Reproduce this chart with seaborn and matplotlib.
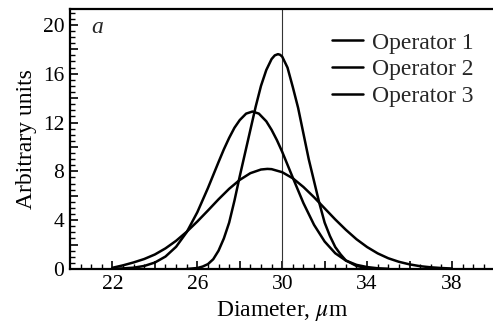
import numpy as np
import pandas as pd
import matplotlib
matplotlib.use("Agg")
import matplotlib.pyplot as plt
from matplotlib.ticker import MultipleLocator, FuncFormatter
import seaborn as sns

# ---- data ----
op1_x = [25.5, 26.0, 26.25, 26.5, 26.75, 27.0, 27.25, 27.5, 27.75, 28.0, 28.25, 28.5, 28.75,
         29.0, 29.25, 29.5, 29.65, 29.8, 29.9, 30.0, 30.25, 30.5, 30.75, 31.0, 31.25, 31.5,
         31.75, 32.0, 32.25, 32.5, 32.75, 33.0, 33.5, 34.0, 34.5]
op1_y = [0.0, 0.08, 0.2, 0.4, 0.8, 1.5, 2.5, 3.8, 5.6, 7.6, 9.5, 11.4, 13.3,
         15.0, 16.3, 17.2, 17.5, 17.6, 17.55, 17.4, 16.5, 14.9, 13.2, 11.1, 9.0, 7.2,
         5.4, 3.8, 2.7, 1.8, 1.2, 0.7, 0.25, 0.08, 0.0]

op2_x = [22.0, 22.5, 23.0, 23.5, 24.0, 24.5, 25.0, 25.5, 26.0, 26.5, 27.0, 27.25, 27.5,
         27.75, 28.0, 28.3, 28.6, 28.9, 29.25, 29.5, 29.75, 30.0, 30.5, 31.0, 31.5, 32.0,
         32.5, 33.0, 33.5, 34.0, 34.5, 35.0]
op2_y = [0.02, 0.05, 0.11, 0.25, 0.53, 1.02, 1.82, 3.02, 4.65, 6.63, 8.76, 9.8, 10.74,
         11.57, 12.2, 12.73, 12.9, 12.73, 12.1, 11.4, 10.56, 9.6, 7.48, 5.4, 3.62, 2.25,
         1.29, 0.69, 0.34, 0.16, 0.06, 0.02]

op3_x = [22.0, 22.5, 23.0, 23.5, 24.0, 24.5, 25.0, 25.5, 26.0, 26.5, 27.0, 27.5, 28.0, 28.5,
         29.0, 29.3, 29.5, 30.0, 30.5, 31.0, 31.5, 32.0, 32.5, 33.0, 33.5, 34.0, 34.5, 35.0,
         35.5, 36.0, 36.5, 37.0, 37.5, 38.0]
op3_y = [0.1, 0.3, 0.54, 0.82, 1.19, 1.69, 2.31, 3.05, 3.89, 4.79, 5.71, 6.57, 7.3, 7.85,
         8.15, 8.2, 8.18, 7.93, 7.43, 6.72, 5.88, 4.97, 4.06, 3.21, 2.44, 1.8, 1.28, 0.88,
         0.59, 0.38, 0.23, 0.14, 0.08, 0.04]

operators = ["Operator 1", "Operator 2", "Operator 3"]
x_ticklabels = [22, 26, 30, 34, 38]
y_ticklabels = [0, 4, 8, 12, 16, 20]
marker_line_x = 30

df = pd.concat([
    pd.DataFrame({"Diameter": op1_x, "Value": op1_y, "Operator": operators[0]}),
    pd.DataFrame({"Diameter": op2_x, "Value": op2_y, "Operator": operators[1]}),
    pd.DataFrame({"Diameter": op3_x, "Value": op3_y, "Operator": operators[2]}),
])

sns.set_theme(style="ticks")
plt.rcParams["font.family"] = ["Liberation Serif", "DejaVu Serif"]
plt.rcParams["mathtext.fontset"] = "stix"

fig = plt.figure(figsize=(4.93, 3.36), dpi=100)
ax = fig.add_axes([70 / 493, 1 - 269 / 336, 424.4 / 493, 260 / 336])

ax.axvline(marker_line_x, color="#333333", lw=0.8, zorder=1)
sns.lineplot(data=df, x="Diameter", y="Value", hue="Operator", palette=["black"] * 3,
             estimator=None, sort=False, lw=1.8, ax=ax, zorder=3)
for ln in ax.get_lines():
    ln.set_solid_joinstyle("round")

ax.set_xlim(20, 40)
ax.set_ylim(0, 21.3)

ax.xaxis.set_major_locator(MultipleLocator(2))
ax.xaxis.set_minor_locator(MultipleLocator(0.5))
ax.yaxis.set_major_locator(MultipleLocator(2))
ax.yaxis.set_minor_locator(MultipleLocator(0.5))
ax.xaxis.set_major_formatter(FuncFormatter(
    lambda v, _: f"{int(round(v))}" if int(round(v)) in x_ticklabels else ""))
ax.yaxis.set_major_formatter(FuncFormatter(
    lambda v, _: f"{int(round(v))}" if int(round(v)) in y_ticklabels else ""))

ax.tick_params(which="both", direction="in", colors="black", labelsize=15.5,
               top=False, right=False)
ax.tick_params(which="major", length=6, width=1.2, pad=4)
ax.tick_params(which="minor", length=3.5, width=1.0)

for s in ["left", "bottom", "top", "right"]:
    ax.spines[s].set_linewidth(1.6)
    ax.spines[s].set_color("black")

ax.set_xlabel("Diameter, $\\mu$m", fontsize=17, labelpad=4, color="black")
ax.set_ylabel("Arbitrary units", fontsize=17, labelpad=4, color="black")

ax.text(21.0, 19.8, "a", fontsize=17, style="italic", ha="left", va="center")

leg = ax.legend(loc="upper right", frameon=False, fontsize=17, handlelength=1.3,
                handletextpad=0.4, labelspacing=0.22, borderaxespad=0.3,
                bbox_to_anchor=(0.991, 0.975))
for h in leg.get_lines():
    h.set_linewidth(1.8)

fig.savefig("out.png", dpi=100)
